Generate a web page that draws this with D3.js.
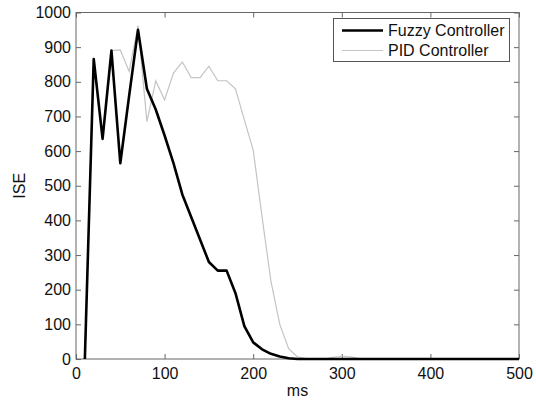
<!DOCTYPE html>
<html>
<head>
<meta charset="utf-8">
<script src="https://cdn.jsdelivr.net/npm/d3@7.9.0/dist/d3.min.js"></script>
<style>
  body { margin: 0; background: #fff; }
  svg { display: block; font-family: "Liberation Sans", Arial, sans-serif; }
</style>
</head>
<body>
<svg id="chart" width="536" height="402"></svg>
<script>
// time in ms, one sample every 10 ms
const times = d3.range(10, 510, 10);

// ISE values
const fuzzy = [
  0, 866, 635, 890, 565, 760, 950, 780, 720, 645,
  565, 475, 410, 345, 280, 255, 255, 190, 95, 48,
  28, 15, 7, 2, 0, 0, 0, 0, 0, 0,
  0, 0, 0, 0, 0, 0, 0, 0, 0, 0,
  0, 0, 0, 0, 0, 0, 0, 0, 0, 0
];
const pid = [
  0, 866, 635, 890, 892, 830, 962, 685, 803, 748,
  825, 857, 812, 812, 845, 803, 803, 780, 690, 603,
  410, 225, 100, 30, 6, 1, 0, 0, 5, 8,
  6, 1, 0, 0, 0, 0, 0, 0, 0, 0,
  0, 0, 0, 0, 0, 0, 0, 0, 0, 0
];

const xTicks = [0, 100, 200, 300, 400, 500];
const yTicks = d3.range(0, 1100, 100);
const seriesNames = ['Fuzzy Controller', 'PID Controller'];

const svg = d3.select('#chart');
const plotLeft = 76, plotRight = 519, plotTop = 12.5, plotBottom = 359;

const x = d3.scaleLinear().domain([0, 500]).range([plotLeft, plotRight]);
const y = d3.scaleLinear().domain([0, 1000]).range([plotBottom, plotTop]);

const axisColor = '#666';
const textColor = '#111';
const fontSize = 16;
const fmt = d3.format('d');

// plot box
svg.append('rect')
  .attr('x', plotLeft).attr('y', plotTop)
  .attr('width', plotRight - plotLeft).attr('height', plotBottom - plotTop)
  .attr('fill', '#fff')
  .attr('stroke', axisColor);

function styleAxis(g, showText) {
  g.select('.domain').remove();
  g.selectAll('.tick line').attr('stroke', axisColor);
  g.selectAll('.tick text')
    .attr('fill', textColor)
    .style('font-size', fontSize + 'px')
    .style('display', showText ? null : 'none');
}

svg.append('g')
  .attr('transform', `translate(0,${plotBottom})`)
  .call(d3.axisBottom(x).tickValues(xTicks).tickFormat(fmt).tickSizeInner(-5).tickSizeOuter(0).tickPadding(9))
  .call(g => styleAxis(g, true));

svg.append('g')
  .attr('transform', `translate(0,${plotTop})`)
  .call(d3.axisTop(x).tickValues(xTicks).tickSizeInner(-5).tickSizeOuter(0))
  .call(g => styleAxis(g, false));

svg.append('g')
  .attr('transform', `translate(${plotLeft},0)`)
  .call(d3.axisLeft(y).tickValues(yTicks).tickFormat(fmt).tickSizeInner(-5).tickSizeOuter(0).tickPadding(5))
  .call(g => styleAxis(g, true));

svg.append('g')
  .attr('transform', `translate(${plotRight},0)`)
  .call(d3.axisRight(y).tickValues(yTicks).tickSizeInner(-5).tickSizeOuter(0))
  .call(g => styleAxis(g, false));

// lines
const line = d3.line()
  .x((d, i) => x(times[i]))
  .y(d => y(d));

svg.append('path')
  .datum(pid)
  .attr('d', line)
  .attr('fill', 'none')
  .attr('stroke', '#c4c4c4')
  .attr('stroke-width', 1.2);

svg.append('path')
  .datum(fuzzy)
  .attr('d', line)
  .attr('fill', 'none')
  .attr('stroke', '#000')
  .attr('stroke-width', 2.6)
  .attr('stroke-linejoin', 'round');

// axis titles
svg.append('text')
  .attr('x', (plotLeft + plotRight) / 2).attr('y', 396)
  .attr('text-anchor', 'middle')
  .style('font-size', fontSize + 'px')
  .attr('fill', textColor)
  .text('ms');

svg.append('text')
  .attr('transform', `translate(25,${(plotTop + plotBottom) / 2}) rotate(-90)`)
  .attr('text-anchor', 'middle')
  .style('font-size', fontSize + 'px')
  .attr('fill', textColor)
  .text('ISE');

// legend
const legend = svg.append('g');
legend.append('rect')
  .attr('x', 333.5).attr('y', 18.5)
  .attr('width', 176).attr('height', 43)
  .attr('fill', '#fff')
  .attr('stroke', '#555');

const legendStyles = [
  { color: '#000', width: 2.6 },
  { color: '#c4c4c4', width: 1.2 }
];
seriesNames.forEach((name, i) => {
  const cy = 30.5 + i * 20;
  legend.append('line')
    .attr('x1', 342).attr('x2', 383)
    .attr('y1', cy).attr('y2', cy)
    .attr('stroke', legendStyles[i].color)
    .attr('stroke-width', legendStyles[i].width);
  legend.append('text')
    .attr('x', 388).attr('y', cy)
    .attr('dy', '0.35em')
    .style('font-size', fontSize + 'px')
    .attr('fill', textColor)
    .text(name);
});
</script>
</body>
</html>
